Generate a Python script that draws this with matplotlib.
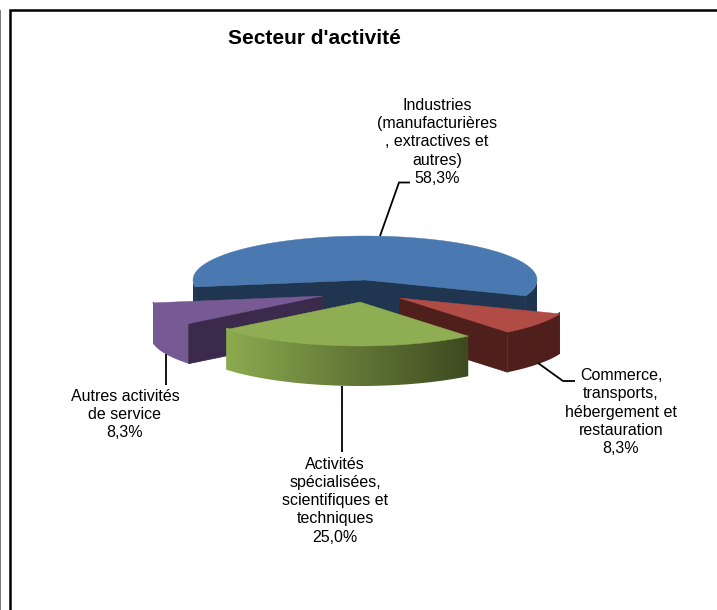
import numpy as np
import matplotlib
matplotlib.use("Agg")
import matplotlib.pyplot as plt
from matplotlib.colors import LinearSegmentedColormap
from matplotlib.patches import Polygon

# Data
categories = ["Industries\n(manufacturières\n, extractives et\nautres)",
              "Commerce,\ntransports,\nhébergement et\nrestauration",
              "Activités\nspécialisées,\nscientifiques et\ntechniques",
              "Autres activités\nde service"]
shares = [58.3, 8.3, 25.0, 8.3]
title = "Secteur d'activité"

# Style / layout
top_colors = ["#4A78B0", "#B14B46", "#8FAD52", "#775A93"]
cut_colors = ["#1F3550", "#4F1F1C", "#8FAD52", "#3C2A4C"]
side_left = ["#1F3550", "#4F1F1C", "#8CAB4F", "#775A93"]
side_right = ["#1F3550", "#4F1F1C", "#3D4A20", "#775A93"]
visible_cuts = [(0, 1), (1,), (), (0,)]  # 0 = start edge, 1 = end edge of each slice
apex = [(365, 280), (399.5, 298), (360, 302), (322.5, 296)]
label_xy = [(437, 142), (621, 412), (335, 500.7), (125, 414.7)]
leaders = [[(380, 236), (399, 182.5), (410, 182.5)],
           [(538, 363), (563, 381), (575, 381)],
           [(342, 386), (342, 452)],
           [(166, 354), (166, 385)]]
RX, RY, DEPTH = 172, 44, 40
START = 189.0
draw_order = [0, 3, 1, 2]
pct = [f"{s:.1f}".replace(".", ",") + "%" for s in shares]

fig = plt.figure(figsize=(7.17, 6.10), dpi=100, facecolor="white")
ax = fig.add_axes([0, 0, 1, 1])
ax.set_xlim(0, 717)
ax.set_ylim(610, 0)
ax.axis("off")

# Chart frame
ax.plot([10.3, 10.3, 717], [610, 10.3, 10.3], color="black", lw=1.8,
        solid_joinstyle="miter", solid_capstyle="butt")
ax.plot([0.4, 0.4], [10, 610], color="#777777", lw=0.7)

fracs = np.array(shares) / sum(shares)
ends = START - 360 * np.cumsum(fracs)
starts = np.r_[START, ends[:-1]]


def pt(i, deg, drop=0.0):
    a = np.deg2rad(deg)
    return apex[i][0] + RX * np.cos(a), apex[i][1] - RY * np.sin(a) + drop


def arc(i, a0, a1, drop=0.0, n=120):
    return [pt(i, d, drop) for d in np.linspace(a0, a1, n)]


z = 2
for i in draw_order:
    a0, a1 = starts[i], ends[i]
    c = apex[i]
    # curved outer wall with left-to-right shading
    spans = [(a0, 180), (0, a1)] if i == 0 else [(a0, a1)]
    overlap = 0.0 if i == 0 else -2.0  # tuck the wall under the top face
    cmap = LinearSegmentedColormap.from_list("wall", [side_left[i], side_right[i]])
    for s0, s1 in spans:
        poly = arc(i, s0, s1, overlap) + arc(i, s1, s0, DEPTH)
        xs, ys = zip(*poly)
        im = ax.imshow(np.linspace(0, 1, 256).reshape(1, -1), cmap=cmap, aspect="auto",
                       extent=(min(xs), max(xs), max(ys), min(ys)), zorder=z)
        im.set_clip_path(Polygon(poly, closed=True, transform=ax.transData))
        z += 1
    # cut faces that can be seen
    for edge in visible_cuts[i]:
        ang = (a0, a1)[edge]
        ax.add_patch(Polygon([c, pt(i, ang), pt(i, ang, DEPTH), (c[0], c[1] + DEPTH)],
                             closed=True, fc=cut_colors[i], ec=cut_colors[i], lw=0.6, zorder=z))
    z += 1
    # top face
    ax.add_patch(Polygon([c] + arc(i, a0, a1), closed=True,
                         fc=top_colors[i], ec=top_colors[i], lw=0.3, zorder=z))
    z += 1
ax.set_xlim(0, 717)
ax.set_ylim(610, 0)

# Leader lines and labels
for pts in leaders:
    ax.plot(*zip(*pts), color="black", lw=1.3, solid_capstyle="butt",
            solid_joinstyle="miter", zorder=z)
for cat, p, xy in zip(categories, pct, label_xy):
    ax.text(xy[0], xy[1], f"{cat}\n{p}", ha="center", va="center", family="Liberation Sans",
            fontsize=11.5, linespacing=1.27, color="black", zorder=z)
ax.text(314, 38, title, ha="center", va="center", family="Liberation Sans",
        fontsize=15, fontweight="bold", color="black", zorder=z)

fig.savefig("out.png", dpi=100, facecolor="white")
